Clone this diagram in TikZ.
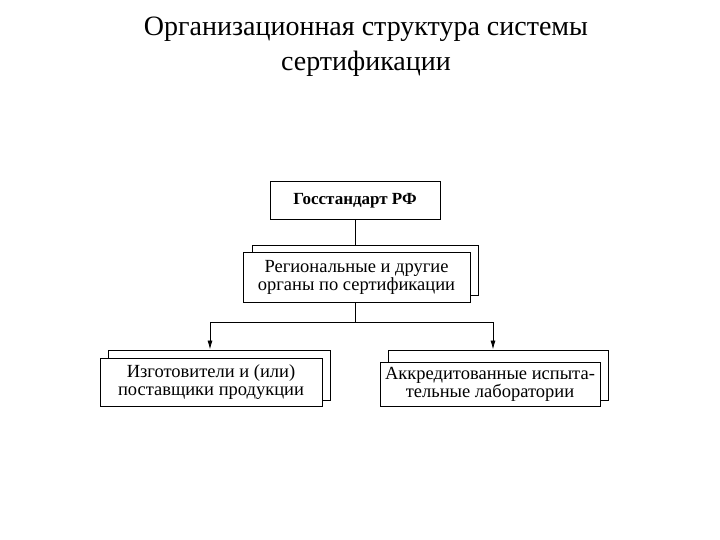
\documentclass[tikz,border=0pt]{standalone}
\usepackage{fontspec}
\setmainfont{Liberation Serif}
\usetikzlibrary{arrows.meta}
\begin{document}
\begin{tikzpicture}[x=1pt,y=-1pt,
  box/.style={draw, line width=1pt, fill=white, align=center, inner sep=0pt, font=\fontsize{18.5}{18}\selectfont},
  back/.style={draw, line width=1pt, fill=white, inner sep=0pt},
  conn/.style={line width=0.8pt},
  arr/.style={conn,-{Latex[length=9pt,width=5pt]}}]
\useasboundingbox (0,0) rectangle (720,540);
\node[font=\fontsize{28}{35}\selectfont, align=center] (title) at (366,47) {Организационная структура системы\\сертификации};
% top
\node[box, minimum width=170, minimum height=38, font=\bfseries\fontsize{17}{18}\selectfont] (top) at (355,201) {Госстандарт РФ};
% regional
\node[back, minimum width=226, minimum height=50] (regb) at (365,270) {};
\node[box, minimum width=227, minimum height=50] (reg) at (356.5,277) {Региональные и другие\\органы по сертификации};
% bottom left
\node[back, minimum width=222, minimum height=50] (lb) at (219,375) {};
\node[box, minimum width=222, minimum height=48] (left) at (211,382) {Изготовители и (или)\\поставщики продукции};
% bottom right
\node[back, minimum width=220, minimum height=50] (rb) at (498,375) {};
\node[box, minimum width=220, minimum height=44] (right) at (490,384) {Аккредитованные испыта-\\тельные лаборатории};
\coordinate (split) at (355,322);
\draw[conn] (top.south) -- (regb.north -| top.south);
\draw[conn] (reg.south -| split) -- (split);
\draw[arr] (split) -| (lb.north -| 210,0);
\draw[arr] (split) -| (rb.north -| 493,0);
\end{tikzpicture}
\end{document}
